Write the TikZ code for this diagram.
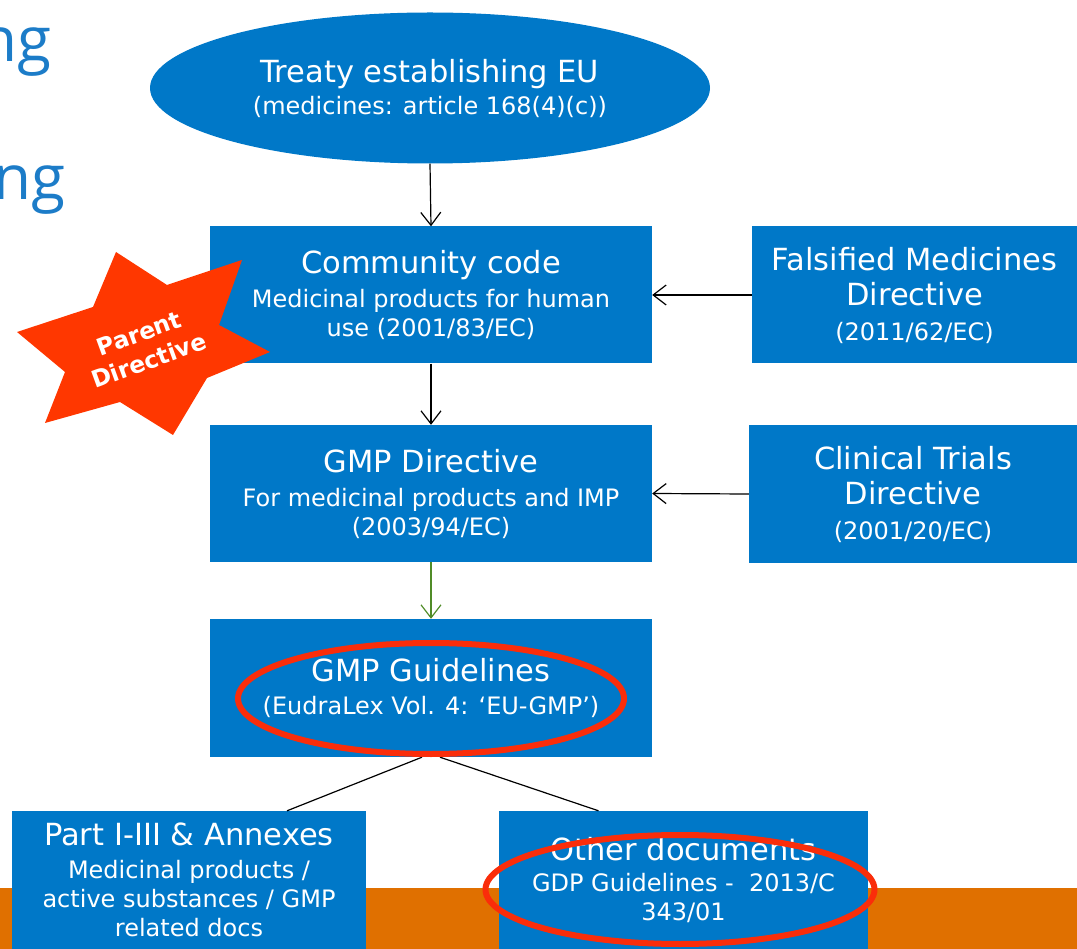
\documentclass[tikz,border=0pt]{standalone}
\usepackage{fontspec}
\setmainfont{DejaVu Sans}
\newfontfamily\ngfont{Open Sans}
\usetikzlibrary{arrows.meta,shapes.geometric}
\definecolor{boxblue}{RGB}{0,120,200}
\definecolor{ngblue}{RGB}{28,124,200}
\definecolor{starred}{RGB}{255,55,0}
\definecolor{ringred}{RGB}{250,45,10}
\definecolor{barorange}{RGB}{224,112,0}
\definecolor{arrgreen}{RGB}{80,140,40}
\newcommand\tA{\fontsize{30.5}{35}\selectfont}
\newcommand\tB{\fontsize{24}{29}\selectfont}
\begin{document}
\begin{tikzpicture}[x=1pt,y=-1pt,
  box/.style={fill=boxblue, text=white, align=center, inner sep=0pt, font=\tB},
  ring/.style={ellipse, draw=ringred, line width=6pt, inner sep=0pt},
  arr/.style={-{Straight Barb[length=13pt,width=20pt]}, line width=1.2pt, black},
  link/.style={line width=1.2pt, black}]
\useasboundingbox (0,0) rectangle (1077,949);
\clip (0,0) rectangle (1077,949);

% partial title words
\node[anchor=base east, inner sep=0pt, font=\ngfont\fontsize{62}{62}\selectfont, text=ngblue] (ng1) at (52,62) {ng};
\node[anchor=base east, inner sep=0pt, font=\ngfont\fontsize{62}{62}\selectfont, text=ngblue] (ng2) at (66,200) {ng};

% orange bar
\fill[barorange] (0,888) rectangle (1077,949);

% top ellipse
\node[ellipse, fill=boxblue, text=white, align=center, inner sep=0pt, minimum width=560, minimum height=151, font=\tB] (treaty) at (430,88)
  {{\tA Treaty establishing EU}\\[3pt](medicines: article 168(4)(c))};

% boxes
\node[box, minimum width=442, minimum height=137] (comm) at (431,295)
  {{\tA Community code}\\[5pt]Medicinal products for human\\use (2001/83/EC)};
\node[box, minimum width=325, minimum height=137, font=\tA] (fals) at (914.5,295)
  {Falsified Medicines\\Directive\\{\tB (2011/62/EC)}};
\node[box, minimum width=442, minimum height=137] (gdir) at (431,493.5)
  {{\tA GMP Directive}\\[5pt]For medicinal products and IMP\\(2003/94/EC)};
\node[box, minimum width=328, minimum height=138, font=\tA] (clin) at (913,494)
  {Clinical Trials\\Directive\\{\tB (2001/20/EC)}};
\node[box, minimum width=442, minimum height=138] (ggl) at (431,688)
  {{\tA GMP Guidelines}\\[4pt](EudraLex Vol. 4: `EU-GMP')};
\node[box, minimum width=354, minimum height=138] (part) at (189,880)
  {{\tA Part I-III \& Annexes}\\[4pt]Medicinal products /\\active substances / GMP\\related docs};
\node[box, minimum width=369, minimum height=138] (other) at (683.5,880)
  {{\tA Other documents}\\[2pt]GDP Guidelines -~~2013/C\\343/01};

% connectors
\draw[arr] (treaty.south) -- (comm.north);
\draw[arr] (fals.west) -- (comm.east);
\draw[arr] (comm.south) -- (gdir.north);
\draw[arr] (clin.west) -- (gdir.east);
\draw[arr, arrgreen] (gdir.south) -- (ggl.north);
\draw[link] ([xshift=-9pt]ggl.south) -- ([xshift=98pt]part.north);
\draw[link] ([xshift=9pt]ggl.south) -- ([xshift=-85pt]other.north);

% red rings
\node[ring, minimum width=386, minimum height=111] (ring1) at (431,698.5) {};
\node[ring, minimum width=389, minimum height=109] (ring2) at (680,889.5) {};

% star
\fill[starred] (116,252) -- (167,285) -- (242,260) -- (219,325) -- (270,352) -- (207,378)
  -- (173,435) -- (120,402) -- (45,423) -- (65,372) -- (17,332) -- (93,307) -- cycle;
\node[rotate=20, text=white, align=center, inner sep=0pt, font=\bfseries\fontsize{23.5}{29}\selectfont] (star) at (144,347) {Parent\\Directive};
\end{tikzpicture}
\end{document}
